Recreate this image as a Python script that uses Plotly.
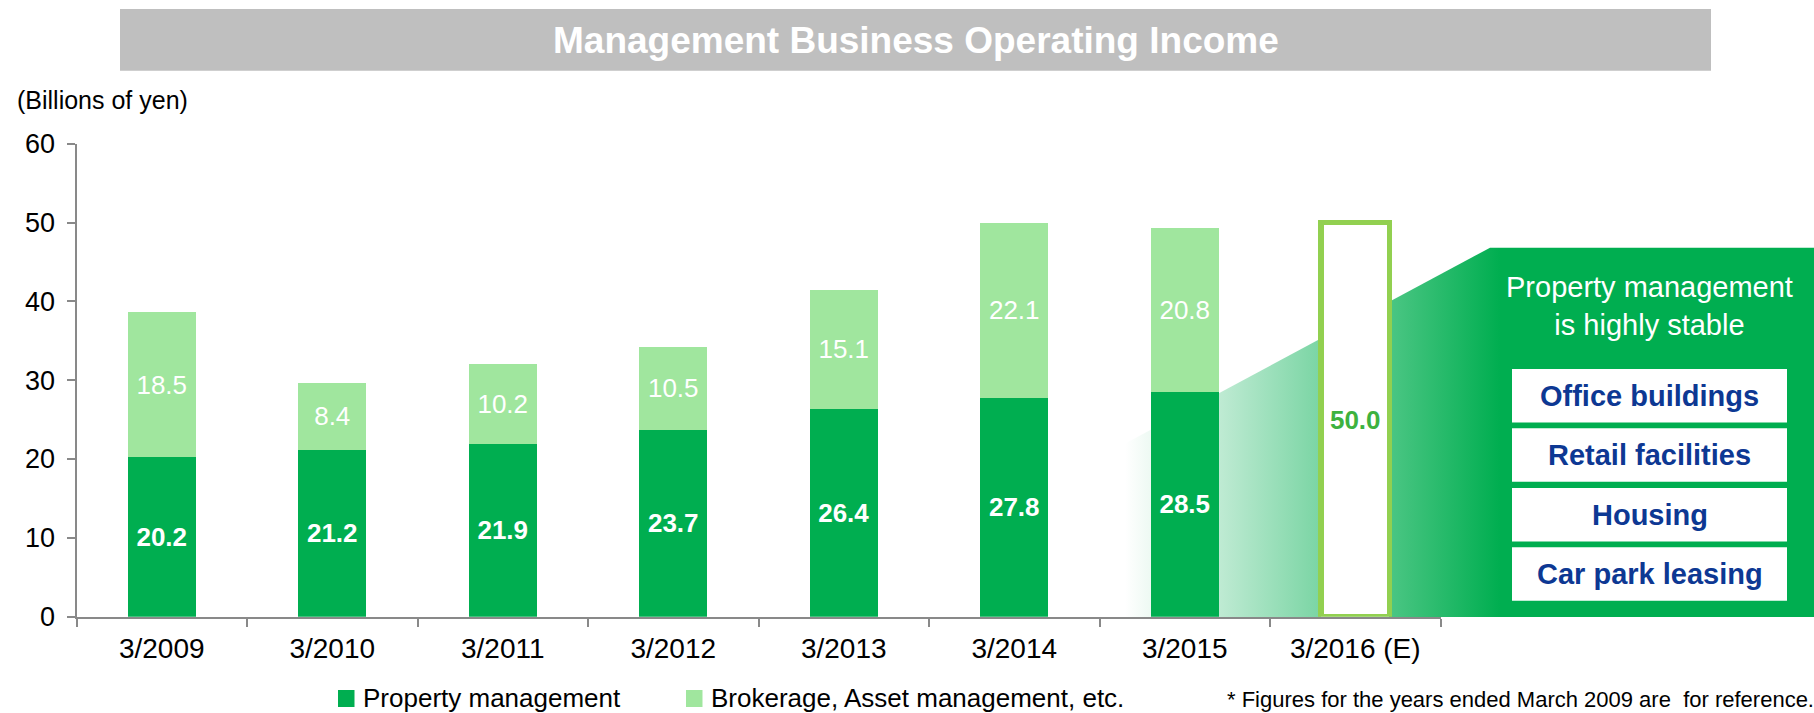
import plotly.graph_objects as go

# ---------------- data ----------------
categories = ["3/2009", "3/2010", "3/2011", "3/2012", "3/2013", "3/2014", "3/2015"]
forecast_category = ["3/2016 (E)"]
property_mgmt = [20.2, 21.2, 21.9, 23.7, 26.4, 27.8, 28.5]
brokerage = [18.5, 8.4, 10.2, 10.5, 15.1, 22.1, 20.8]
forecast_total = [50.0]
series_names = ["Property management", "Brokerage, Asset management, etc."]
stable_segments = ["Office buildings", "Retail facilities", "Housing", "Car park leasing"]
title_text = "Management Business Operating Income"
unit_text = "(Billions of yen)"
note_text = "* Figures for the years ended March 2009 are  for reference."
callout_text = "Property management<br>is highly stable"

# ---------------- style ----------------
W, H = 1814, 713
FONT = "Liberation Sans, Arial, sans-serif"
GREEN = "#00AE50"
LIGHT = "#A0E69E"
LIME = "#92D050"
AXIS = "#898989"
NAVY = "#0D3893"
FC_TEXT = "#3DB23F"

fig = go.Figure()

# gradient callout (pixel-space decoration subplot, drawn beneath the bars)
callout_x = [1100, 1490, 1814, 1814, 1100]
callout_y = [457, 247.7, 247.7, 617, 617]
fig.add_trace(go.Scatter(
    x=callout_x, y=callout_y, fill="toself", mode="lines", line=dict(width=0),
    fillgradient=dict(type="horizontal", colorscale=[[0, "#FFFFFF"], [1, GREEN]],
                      start=1125, stop=1500),
    hoverinfo="skip", showlegend=False, xaxis="x", yaxis="y"))

fig.add_trace(go.Bar(
    x=categories, y=property_mgmt, name=series_names[0], marker=dict(color=GREEN, line=dict(width=0)),
    width=0.4, texttemplate="<b>%{y:.1f}</b>", textposition="inside",
    insidetextanchor="middle", textangle=0,
    textfont=dict(size=26, color="white", family=FONT),
    xaxis="x2", yaxis="y2", showlegend=False))
fig.add_trace(go.Bar(
    x=categories, y=brokerage, name=series_names[1], marker=dict(color=LIGHT, line=dict(width=0)),
    width=0.4, texttemplate="%{y:.1f}", textposition="inside",
    insidetextanchor="middle", textangle=0,
    textfont=dict(size=26, color="white", family=FONT),
    xaxis="x2", yaxis="y2", showlegend=False))
fig.add_trace(go.Bar(
    x=forecast_category, y=forecast_total, name="Forecast",
    marker=dict(color="white", line=dict(color=LIME, width=5.5)),
    width=0.4, texttemplate="<b>%{y:.1f}</b>", textposition="inside",
    insidetextanchor="middle", textangle=0,
    textfont=dict(size=26, color=FC_TEXT, family=FONT),
    xaxis="x2", yaxis="y2", showlegend=False))

shapes = []
# title band
shapes.append(dict(type="rect", xref="x", yref="y", x0=120, x1=1711, y0=9, y1=70.7,
                   fillcolor="#BFBFBF", line=dict(width=0)))
# white boxes in callout
box_tops = [369, 428.3, 488, 547.3]
for t in box_tops:
    shapes.append(dict(type="rect", xref="x", yref="y", x0=1512, x1=1787, y0=t, y1=t + 53.5,
                       fillcolor="white", line=dict(width=0)))
# legend swatches
shapes.append(dict(type="rect", xref="x", yref="y", x0=338, x1=354.5, y0=690, y1=707,
                   fillcolor=GREEN, line=dict(width=0)))
shapes.append(dict(type="rect", xref="x", yref="y", x0=686, x1=702.5, y0=690, y1=707,
                   fillcolor=LIGHT, line=dict(width=0)))

ann = []
def A(x, y, text, size, color="black", xanchor="center", bold=False):
    ann.append(dict(x=x, y=y, xref="x", yref="y", text=("<b>%s</b>" % text) if bold else text,
                    showarrow=False, xanchor=xanchor, yanchor="middle",
                    font=dict(family=FONT, size=size, color=color), align="center"))

A(915.5, 40, title_text, 37, "white", bold=True)
A(15, 100, unit_text, 25, xanchor="left")
A(361, 697.5, series_names[0], 26, xanchor="left")
A(709, 697.5, series_names[1], 26, xanchor="left")
A(1225, 699, note_text, 22, xanchor="left")
A(1649, 306, callout_text, 29, "white")
for t, label in zip(box_tops, stable_segments):
    A(1649.5, t + 27, label, 29, NAVY, bold=True)

fig.update_layout(
    width=W, height=H,
    margin=dict(l=0, r=0, t=0, b=0),
    paper_bgcolor="white", plot_bgcolor="rgba(0,0,0,0)",
    barmode="stack", bargap=0.6,
    showlegend=False,
    font=dict(family=FONT, color="black"),
    xaxis=dict(domain=[0, 1], range=[0, W], visible=False, fixedrange=True),
    yaxis=dict(domain=[0, 1], range=[H, 0], visible=False, fixedrange=True),
    xaxis2=dict(domain=[76.5 / W, 1440.5 / W], anchor="y2", type="category",
                categoryorder="array", categoryarray=categories + forecast_category,
                range=[-0.5, 7.5], showline=True, linecolor=AXIS, linewidth=2,
                ticks="outside", tickson="boundaries", ticklen=8, tickcolor=AXIS, tickwidth=2,
                tickfont=dict(size=28, color="black", family=FONT), showgrid=False,
                fixedrange=True, automargin=False, ticklabelstandoff=6),
    yaxis2=dict(domain=[1 - 616.7 / H, 1 - 143.7 / H], anchor="x2", range=[0, 60],
                tick0=0, dtick=10, showline=True, linecolor=AXIS, linewidth=2,
                ticks="outside", ticklen=8, tickcolor=AXIS, tickwidth=2,
                tickfont=dict(size=27, color="black", family=FONT), showgrid=False,
                zeroline=False, fixedrange=True, automargin=False, ticklabelstandoff=6),
    shapes=shapes, annotations=ann,
)

fig.write_html("out.html", config={"displayModeBar": False},
               post_script="document.body.style.margin='0';document.body.style.overflow='hidden';")
